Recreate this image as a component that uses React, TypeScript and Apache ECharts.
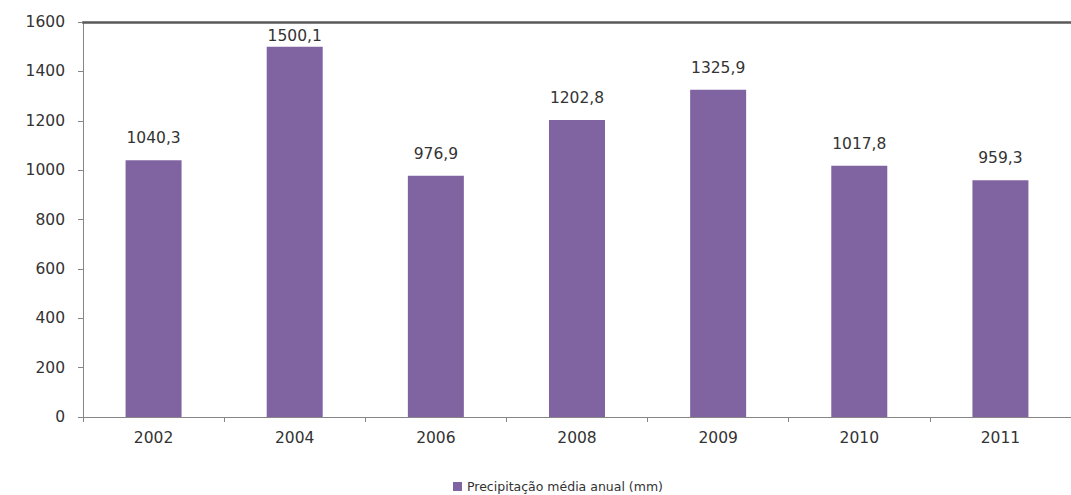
import React, { useEffect, useRef } from "react";
import * as echarts from "echarts";

const categories = ["2002", "2004", "2006", "2008", "2009", "2010", "2011"];
const values = [1040.3, 1500.1, 976.9, 1202.8, 1325.9, 1017.8, 959.3];
const seriesName = "Precipitação média anual (mm)";

export default function App() {
  const ref = useRef<HTMLDivElement>(null);
  useEffect(() => {
    document.body.style.margin = "0";
    const chart = echarts.init(ref.current!, null, { renderer: "svg" });
    const font = "DejaVu Sans";
    const maxIdx = values.indexOf(Math.max(...values));
    chart.setOption({
      animation: false,
      backgroundColor: "#ffffff",
      textStyle: { fontFamily: font },
      grid: { left: 83, right: -13, top: 22, bottom: 78, containLabel: false },
      legend: {
        data: [seriesName],
        left: 453,
        top: 480,
        padding: 0,
        icon: "rect",
        itemWidth: 9,
        itemHeight: 9,
        itemGap: 5,
        textStyle: { fontFamily: font, fontSize: 12.5, color: "#333333" },
      },
      xAxis: [
        {
          type: "category",
          data: categories,
          axisLine: { lineStyle: { color: "#868686", width: 1 } },
          axisTick: { show: true, length: 5, lineStyle: { color: "#868686" } },
          axisLabel: { fontFamily: font, fontSize: 15.5, color: "#333333", margin: 13 },
        },
        {
          type: "category",
          data: categories,
          position: "top",
          axisLine: { lineStyle: { color: "#595959", width: 2.5 } },
          axisTick: { show: false },
          axisLabel: { show: false },
        },
      ],
      yAxis: {
        type: "value",
        min: 0,
        max: 1600,
        interval: 200,
        axisLine: { show: true, lineStyle: { color: "#868686", width: 1 } },
        axisTick: { show: true, length: 5, lineStyle: { color: "#868686" } },
        splitLine: { show: false },
        axisLabel: {
          fontFamily: font,
          fontSize: 15.5,
          color: "#333333",
          margin: 18,
          formatter: (v: number) => String(v),
        },
      },
      series: [
        {
          name: seriesName,
          type: "bar",
          barWidth: 56,
          itemStyle: { color: "#8064A2" },
          label: {
            show: true,
            position: "top",
            distance: 14,
            fontFamily: font,
            fontSize: 15.5,
            color: "#333333",
            formatter: (p: any) => String(p.value.toFixed(1)).replace(".", ","),
          },
          data: values.map((v, i) =>
            i === maxIdx ? { value: v, label: { distance: 3 } } : v
          ),
        },
      ],
    });
    return () => chart.dispose();
  }, []);
  return <div ref={ref} style={{ width: 1071, height: 495 }} />;
}
